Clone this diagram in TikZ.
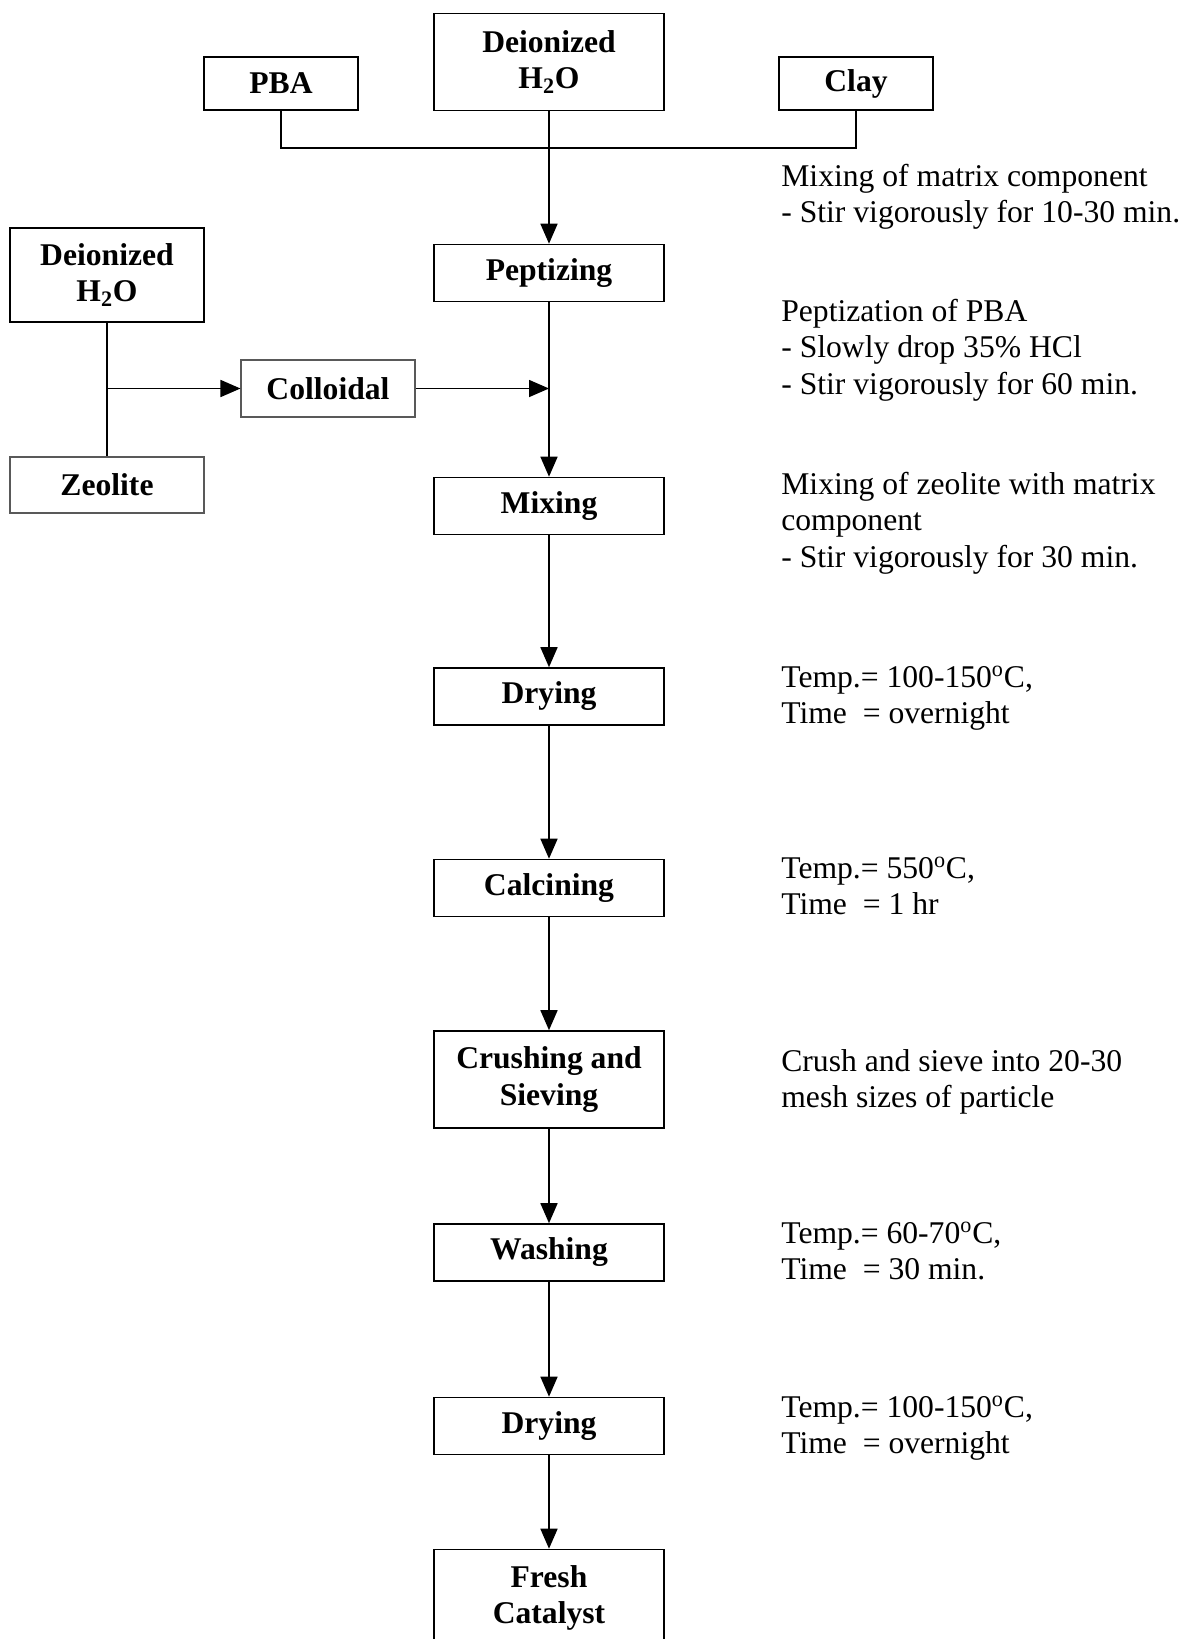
\documentclass[tikz,border=0pt]{standalone}
\usepackage{fontspec}
\setmainfont{Liberation Serif}
\usetikzlibrary{arrows.meta,positioning,calc}
\tikzset{
  stepbox/.style={draw,line width=0.9pt,align=center,inner sep=0pt,
    minimum width=4.6cm,minimum height=1.14cm,font=\fontsize{18}{20.7}\selectfont\bfseries},
  tallbox/.style={stepbox,minimum height=1.94cm},
  smallbox/.style={stepbox,minimum width=3.08cm,minimum height=1.06cm},
  sidebox/.style={stepbox,minimum width=3.88cm},
  thinbox/.style={stepbox,draw=black!65,line width=0.6pt},
  noteline/.style={anchor=base west,align=left,inner sep=0pt,font=\fontsize{18}{20.7}\selectfont},
  flowarrow/.style={-{Triangle[length=0.4cm,width=0.34cm]},line width=0.9pt},
  flowline/.style={line width=0.9pt}
}
\begin{document}
\begin{tikzpicture}[x=0.02cm,y=-0.02cm]
  \useasboundingbox (0,0) rectangle (1185,1639);
  \node[smallbox] (pba) at (281,83.5) {PBA};
  \node[tallbox] (dwtop) at (549,62) {Deionized\\H\textsubscript{2}O};
  \node[smallbox] (clay) at (856,83.5) {Clay};
  \node[stepbox] (pept) at (549,273) {Peptizing};
  \node[sidebox,minimum height=1.88cm] (dwleft) at (107,275) {Deionized\\H\textsubscript{2}O};
  \node[thinbox,minimum width=3.88cm,minimum height=1.12cm] (zeo) at (107,485) {Zeolite};
  \node[thinbox,minimum width=3.48cm] (coll) at (328,388.5) {Colloidal};
  \node[stepbox] (mix) at (549,506) {Mixing};
  \node[stepbox] (dryone) at (549,696.5) {Drying};
  \node[stepbox] (calc) at (549,888) {Calcining};
  \node[tallbox] (crush) at (549,1079.5) {Crushing and\\Sieving};
  \node[stepbox] (wash) at (549,1252.5) {Washing};
  \node[stepbox] (drytwo) at (549,1426) {Drying};
  \node[tallbox] (fresh) at (549,1598) {Fresh\\Catalyst};
  \coordinate (topjoin) at (549,148);
  \coordinate (zeojoin) at (107,388.5);
  \coordinate (colljoin) at (549,388.5);
  \draw[flowline] (pba.south) |- (topjoin) -| (clay.south);
  \draw[flowarrow] (dwtop.south) -- (pept.north);
  \draw[flowline] (dwleft.south) -- (zeo.north);
  \draw[flowarrow] (zeojoin) -- (coll.west);
  \draw[flowarrow] (coll.east) -- (colljoin);
  \draw[flowarrow] (pept.south) -- (mix.north);
  \draw[flowarrow] (mix.south) -- (dryone.north);
  \draw[flowarrow] (dryone.south) -- (calc.north);
  \draw[flowarrow] (calc.south) -- (crush.north);
  \draw[flowarrow] (crush.south) -- (wash.north);
  \draw[flowarrow] (wash.south) -- (drytwo.north);
  \draw[flowarrow] (drytwo.south) -- (fresh.north);
  \node[noteline] (notemix) at (781,222.5) {Mixing of matrix component\\- Stir vigorously for 10-30 min.};
  \node[noteline] (notepept) at (781,394) {Peptization of PBA\\- Slowly drop 35\% HCl\\- Stir vigorously for 60 min.};
  \node[noteline] (notezeo) at (781,567) {Mixing of zeolite with matrix\\component\\- Stir vigorously for 30 min.};
  \node[noteline] (notedryone) at (781,723.5) {Temp.= 100-150\textsuperscript{o}C,\\Time~ = overnight};
  \node[noteline] (notecalc) at (781,914.5) {Temp.= 550\textsuperscript{o}C,\\Time~ = 1 hr};
  \node[noteline] (notecrush) at (781,1107.5) {Crush and sieve into 20-30\\mesh sizes of particle};
  \node[noteline] (notewash) at (781,1279.5) {Temp.= 60-70\textsuperscript{o}C,\\Time~ = 30 min.};
  \node[noteline] (notedrytwo) at (781,1453.5) {Temp.= 100-150\textsuperscript{o}C,\\Time~ = overnight};
\end{tikzpicture}
\end{document}
